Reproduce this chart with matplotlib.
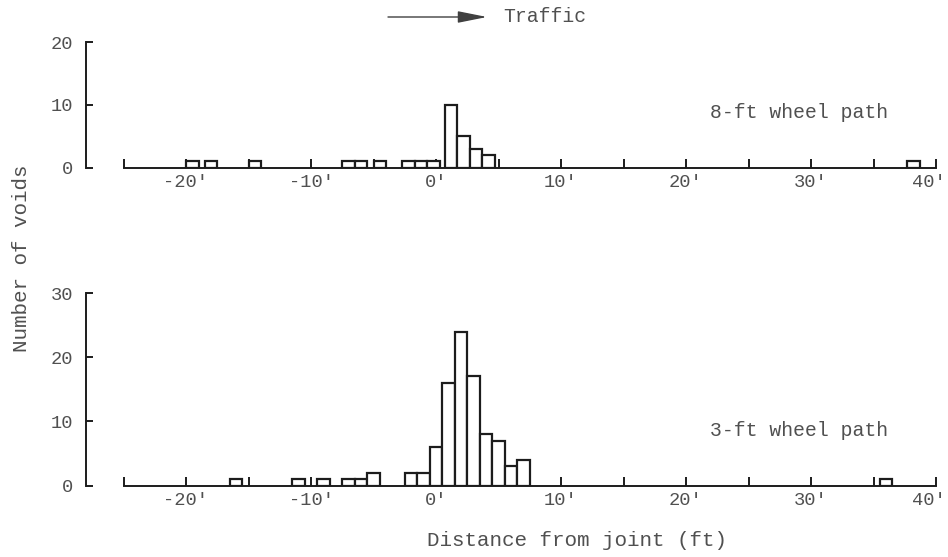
import matplotlib
matplotlib.use("Agg")
import matplotlib.pyplot as plt
from matplotlib.transforms import ScaledTranslation

# Number of voids per 1-ft interval, keyed by interval centre (ft from joint)
path8_pos = [-19.5, -18, -14.5, -7, -6, -4.5, -2.2, -1.2, -0.2, 1.2, 2.2, 3.2, 4.2, 38.2]
path8_count = [1, 1, 1, 1, 1, 1, 1, 1, 1, 10, 5, 3, 2, 1]

path3_pos = [-16, -11, -9, -7, -6, -5, -2, -1, 0, 1, 2, 3, 4, 5, 6, 7, 36]
path3_count = [1, 1, 1, 1, 1, 2, 2, 2, 6, 16, 24, 17, 8, 7, 3, 4, 1]

x_major = [-20, -10, 0, 10, 20, 30, 40]
x_labels = ["-20'", "-10'", "0'", "10'", "20'", "30'", "40'"]
x_minor = [-25, -15, -5, 5, 15, 25, 35]
top_yticks = [0, 10, 20]
bottom_yticks = [0, 10, 20, 30]

plt.rcParams["font.family"] = ["Liberation Mono", "DejaVu Sans Mono"]

INK = "#505050"
LINE = "#1c1c1c"
FS_TICK = 13.5
FS_TEXT = 14.2

W, H = 948, 557
fig = plt.figure(figsize=(W / 100, H / 100), dpi=100)


def px_axes(left, top, right, bottom):
    return fig.add_axes([left / W, 1 - bottom / H, (right - left) / W, (bottom - top) / H])


# x from -28 (y-axis line) to 40.8 ft at 12.5 px per ft
ax_top = px_axes(86, 42.5, 86 + 68.8 * 12.5, 167.5)
ax_bot = px_axes(86, 293, 86 + 68.8 * 12.5, 485.5)


def style(ax, yticks):
    ytop = yticks[-1]
    ax.set_xlim(-28, 40.8)
    ax.set_ylim(0, ytop)
    ax.spines["top"].set_visible(False)
    ax.spines["right"].set_visible(False)
    ax.spines["bottom"].set_bounds(-25, 40)
    ax.spines["left"].set_bounds(0, ytop)
    for s in ("bottom", "left"):
        ax.spines[s].set_linewidth(1.4)
        ax.spines[s].set_color(LINE)
    ax.set_xticks(x_major)
    ax.set_xticklabels(x_labels)
    ax.set_xticks(x_minor, minor=True)
    ax.tick_params(axis="x", which="both", direction="in", length=6.5, width=1.4,
                   color=LINE, pad=5, labelsize=FS_TICK, labelcolor=INK)
    ax.set_yticks(yticks)
    ax.tick_params(axis="y", direction="in", length=5, width=1.4, color=LINE,
                   pad=9, labelsize=FS_TICK, labelcolor=INK)
    ax.patch.set_alpha(0)
    # keep the rightmost label inside the figure edge
    last = ax.get_xticklabels()[-1]
    last.set_horizontalalignment("right")
    last.set_transform(last.get_transform()
                       + ScaledTranslation(10 / 100, 0, fig.dpi_scale_trans))


ax_top.bar(path8_pos, path8_count, width=1.0, facecolor="white",
           edgecolor=LINE, linewidth=1.6, zorder=2)
ax_bot.bar(path3_pos, path3_count, width=1.0, facecolor="white",
           edgecolor=LINE, linewidth=1.6, zorder=2)
style(ax_top, top_yticks)
style(ax_bot, bottom_yticks)

fig.text(888 / W, 1 - 113 / H, "8-ft wheel path", ha="right", va="center",
         fontsize=FS_TEXT, color=INK)
fig.text(888 / W, 1 - 431 / H, "3-ft wheel path", ha="right", va="center",
         fontsize=FS_TEXT, color=INK)

fig.text(22 / W, 1 - 258 / H, "Number of voids", rotation=90, ha="center",
         va="center", fontsize=15, color=INK)
fig.text(577 / W, 1 - 540 / H, "Distance from joint (ft)", ha="center",
         va="center", fontsize=15, color=INK)

# Traffic direction arrow
fig.text(503 / W, 1 - 16 / H, "Traffic", ha="left", va="center",
         fontsize=FS_TEXT, color=INK)
ax_top.annotate("", xy=(487 / W, 1 - 17 / H), xytext=(388 / W, 1 - 17 / H),
                xycoords="figure fraction", textcoords="figure fraction",
                arrowprops=dict(arrowstyle="-|>,head_length=1.8,head_width=0.36",
                                color="#404040", lw=1.0, shrinkA=0, shrinkB=0))

fig.savefig("out.png", dpi=100)
